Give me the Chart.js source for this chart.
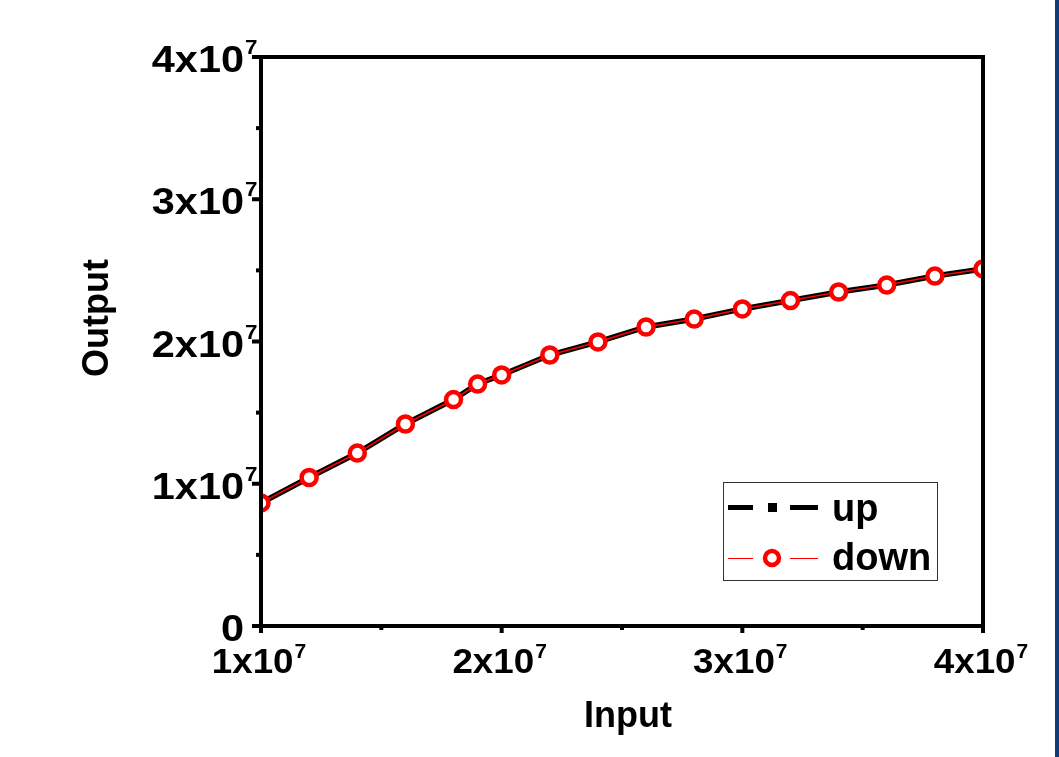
<!DOCTYPE html>
<html>
<head>
<meta charset="utf-8">
<script src="https://cdn.jsdelivr.net/npm/chart.js@4/dist/chart.umd.min.js"></script>
<style>
  html, body { margin: 0; padding: 0; background: #ffffff; overflow: hidden; }
  #wrap { position: relative; width: 1059px; height: 757px; }
  #strip { position: absolute; left: 1055px; top: 0; width: 4px; height: 757px; background: #0f3b78; }
</style>
</head>
<body>
<div id="wrap">
  <canvas id="c" width="1059" height="757"></canvas>
  <div id="strip"></div>
</div>
<script>
// ---- data ----
const inputValues = [1.0e7, 1.2e7, 1.4e7, 1.6e7, 1.8e7, 1.9e7, 2.0e7, 2.2e7, 2.4e7, 2.6e7, 2.8e7, 3.0e7, 3.2e7, 3.4e7, 3.6e7, 3.8e7, 4.0e7];
const upValues   = [0.865e7, 1.044e7, 1.216e7, 1.420e7, 1.592e7, 1.701e7, 1.765e7, 1.905e7, 1.997e7, 2.102e7, 2.158e7, 2.229e7, 2.288e7, 2.348e7, 2.397e7, 2.460e7, 2.510e7];
const downValues = [0.865e7, 1.044e7, 1.216e7, 1.420e7, 1.592e7, 1.701e7, 1.765e7, 1.905e7, 1.997e7, 2.102e7, 2.158e7, 2.229e7, 2.288e7, 2.348e7, 2.397e7, 2.460e7, 2.510e7];
const seriesNames = ['up', 'down'];
const xTickValues = [1e7, 2e7, 3e7, 4e7];
const xTickLabels = ['1x10^7', '2x10^7', '3x10^7', '4x10^7'];
const xMinorTicks = [1.5e7, 2.5e7, 3.5e7];
const yTickValues = [0, 1e7, 2e7, 3e7, 4e7];
const yTickLabels = ['0', '1x10^7', '2x10^7', '3x10^7', '4x10^7'];
const yMinorTicks = [0.5e7, 1.5e7, 2.5e7, 3.5e7];
const xTitle = 'Input';
const yTitle = 'Output';

const FONT = '"Liberation Sans", Arial, sans-serif';

function drawTickLabel(ctx, text, mode, px, py) {
  const parts = text.split('^');
  const base = parts[0], exp = parts[1] || '';
  const sx = mode === 'x' ? 1.05 : 1.12;
  const fs = mode === 'x' ? 35 : 37;
  ctx.save();
  ctx.fillStyle = '#000';
  ctx.textBaseline = 'alphabetic';
  ctx.textAlign = 'left';
  ctx.font = 'bold ' + fs + 'px ' + FONT;
  const bw = ctx.measureText(base).width * sx;
  ctx.font = 'bold 20px ' + FONT;
  const ew = exp ? (ctx.measureText(exp).width + 1) * sx : 0;
  let bx, bl, ex, el;
  if (mode === 'x') {
    bx = px - (bw + ew) / 2 - 2;
    bl = 673;
    ex = bx + bw + 1;
    el = 658;
  } else {
    bx = 244 - bw;
    bl = py + 15;
    ex = 245;
    el = py - 3;
  }
  ctx.save();
  ctx.translate(bx, bl);
  ctx.scale(sx, 1);
  ctx.font = 'bold ' + fs + 'px ' + FONT;
  ctx.fillText(base, 0, 0);
  ctx.restore();
  if (exp) {
    ctx.save();
    ctx.translate(ex, el);
    ctx.scale(sx, 1);
    ctx.font = 'bold 20px ' + FONT;
    ctx.fillText(exp, 0, 0);
    ctx.restore();
  }
  ctx.restore();
}

const decor = {
  id: 'decor',
  afterDatasetsDraw(chart) {
    const ctx = chart.ctx;
    const a = chart.chartArea;
    const xs = chart.scales.x, ys = chart.scales.y;
    ctx.save();
    // frame
    ctx.strokeStyle = '#000';
    ctx.lineWidth = 4;
    ctx.strokeRect(a.left, a.top, a.right - a.left, a.bottom - a.top);
    // ticks
    ctx.fillStyle = '#000';
    xTickValues.forEach(v => { const p = xs.getPixelForValue(v); ctx.fillRect(p - 2, a.bottom, 4, 7); });
    xMinorTicks.forEach(v => { const p = xs.getPixelForValue(v); ctx.fillRect(p - 2, a.bottom, 4, 4); });
    yTickValues.forEach(v => { const p = ys.getPixelForValue(v); ctx.fillRect(a.left - 9, p - 2, 9, 4); });
    yMinorTicks.forEach(v => { const p = ys.getPixelForValue(v); ctx.fillRect(a.left - 5, p - 2, 5, 4); });
    // tick labels
    xTickValues.forEach((v, i) => drawTickLabel(ctx, xTickLabels[i], 'x', xs.getPixelForValue(v), 0));
    yTickValues.forEach((v, i) => drawTickLabel(ctx, yTickLabels[i], 'y', 0, ys.getPixelForValue(v)));
    // titles
    ctx.fillStyle = '#000';
    ctx.font = 'bold 36px ' + FONT;
    ctx.textAlign = 'center';
    ctx.textBaseline = 'alphabetic';
    ctx.fillText(xTitle, 628, 727);
    ctx.save();
    ctx.translate(108, 318);
    ctx.rotate(-Math.PI / 2);
    ctx.fillText(yTitle, 0, 0);
    ctx.restore();
    // legend
    const L = a.right - 260, T = a.bottom - 144;   // box top-left
    ctx.lineWidth = 1;
    ctx.strokeStyle = '#333';
    ctx.strokeRect(L + 0.5, T + 0.5, 214, 98);
    // up sample (dash-dot)
    ctx.fillStyle = '#000';
    ctx.fillRect(L + 5, T + 23, 25, 5);
    ctx.fillRect(L + 45, T + 21, 9, 9);
    ctx.fillRect(L + 67, T + 23, 28, 5);
    // down sample
    ctx.strokeStyle = '#ff0000';
    ctx.lineWidth = 1;
    ctx.beginPath();
    ctx.moveTo(L + 5, T + 76.5); ctx.lineTo(L + 30, T + 76.5);
    ctx.moveTo(L + 67, T + 76.5); ctx.lineTo(L + 95, T + 76.5);
    ctx.stroke();
    ctx.lineWidth = 4.5;
    ctx.fillStyle = '#fff';
    ctx.beginPath();
    ctx.arc(L + 49, T + 76, 7, 0, Math.PI * 2);
    ctx.fill();
    ctx.stroke();
    ctx.fillStyle = '#000';
    ctx.font = 'bold 38px ' + FONT;
    ctx.textAlign = 'left';
    ctx.fillText(seriesNames[0], L + 109, T + 39);
    ctx.fillText(seriesNames[1], L + 109, T + 88);
    ctx.restore();
  }
};

const ctx = document.getElementById('c').getContext('2d');
new Chart(ctx, {
  type: 'line',
  data: {
    datasets: [
      {
        label: seriesNames[1],
        data: inputValues.map((x, i) => ({ x: x, y: downValues[i] })),
        borderColor: '#ff0000',
        borderWidth: 1.5,
        pointRadius: 7.5,
        pointBorderWidth: 4.5,
        pointBorderColor: '#ff0000',
        pointBackgroundColor: '#ffffff',
        tension: 0,
        clip: 0,
        order: 0
      },
      {
        label: seriesNames[0],
        data: inputValues.map((x, i) => ({ x: x, y: upValues[i] })),
        borderColor: '#000000',
        borderWidth: 5.5,
        pointRadius: 0,
        tension: 0,
        clip: 0,
        order: 1
      }
    ]
  },
  options: {
    responsive: false,
    animation: false,
    devicePixelRatio: 1,
    layout: { padding: { left: 0, right: 76, top: 57, bottom: 0 }, autoPadding: false },
    plugins: { legend: { display: false }, tooltip: { enabled: false } },
    scales: {
      x: {
        type: 'linear', min: 1e7, max: 4e7,
        ticks: { display: false },
        grid: { display: false },
        border: { display: false },
        afterFit(s) { s.height = 131; }
      },
      y: {
        type: 'linear', min: 0, max: 4e7,
        ticks: { display: false },
        grid: { display: false },
        border: { display: false },
        afterFit(s) { s.width = 261; }
      }
    }
  },
  plugins: [decor]
});
</script>
</body>
</html>
